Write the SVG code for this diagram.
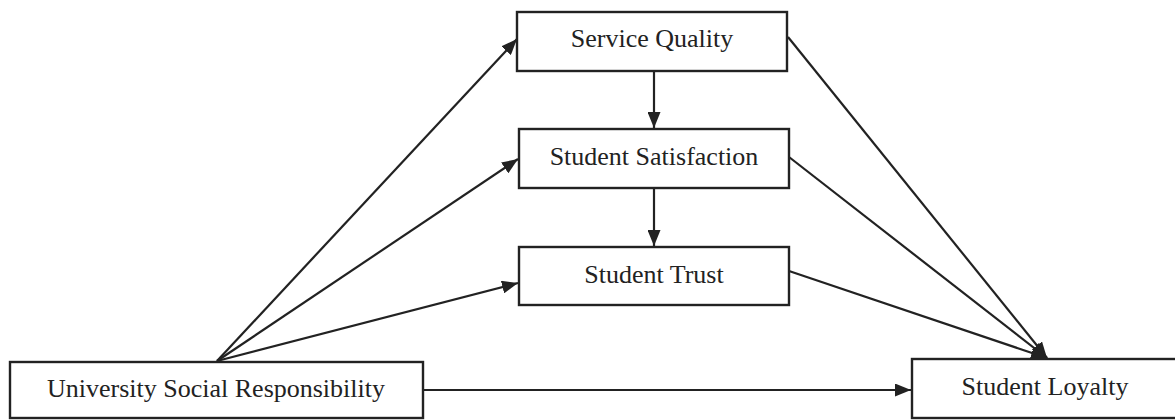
<svg xmlns="http://www.w3.org/2000/svg" width="1175" height="420" viewBox="0 0 1175 420">
  <style>
    .box { fill: #ffffff; stroke: #222222; stroke-width: 2.4; }
    .label { font-family: "Liberation Serif", "Times New Roman", serif; font-size: 26px; fill: #222222; text-anchor: middle; }
    .edge { stroke: #222222; stroke-width: 2.2; fill: none; marker-end: url(#head); }
  </style>
  <defs>
    <marker id="head" viewBox="0 0 16 13" refX="16" refY="6.5" markerWidth="16" markerHeight="13" markerUnits="userSpaceOnUse" orient="auto">
      <path d="M0,0 L16,6.5 L0,13 Z" fill="#222222"/>
    </marker>
  </defs>
  <rect width="1175" height="420" fill="#ffffff"/>

  <g id="connectors">
    <!-- from University Social Responsibility -->
    <line class="edge" x1="217" y1="361" x2="517" y2="39"/>
    <line class="edge" x1="217" y1="361" x2="518" y2="159"/>
    <line class="edge" x1="217" y1="361" x2="518" y2="283"/>
    <line class="edge" x1="423" y1="390" x2="911" y2="390"/>
    <!-- mediator chain -->
    <line class="edge" x1="654" y1="71" x2="654" y2="128"/>
    <line class="edge" x1="654" y1="188" x2="654" y2="246"/>
    <!-- into Student Loyalty -->
    <line class="edge" x1="788" y1="37" x2="1047" y2="358"/>
    <line class="edge" x1="789" y1="157" x2="1047" y2="358"/>
    <line class="edge" x1="789" y1="271" x2="1047" y2="358"/>
  </g>

  <g id="service-quality">
    <rect class="box" x="517" y="12" width="270" height="59"/>
    <text class="label" x="652" y="47">Service Quality</text>
  </g>
  <g id="student-satisfaction">
    <rect class="box" x="519" y="129" width="270" height="59"/>
    <text class="label" x="654" y="165">Student Satisfaction</text>
  </g>
  <g id="student-trust">
    <rect class="box" x="519" y="247" width="270" height="58"/>
    <text class="label" x="654" y="283">Student Trust</text>
  </g>
  <g id="university-social-responsibility">
    <rect class="box" x="10" y="362" width="413" height="56"/>
    <text class="label" x="216" y="397">University Social Responsibility</text>
  </g>
  <g id="student-loyalty">
    <rect class="box" x="912" y="359" width="275" height="59"/>
    <text class="label" x="1045" y="395">Student Loyalty</text>
  </g>
</svg>
